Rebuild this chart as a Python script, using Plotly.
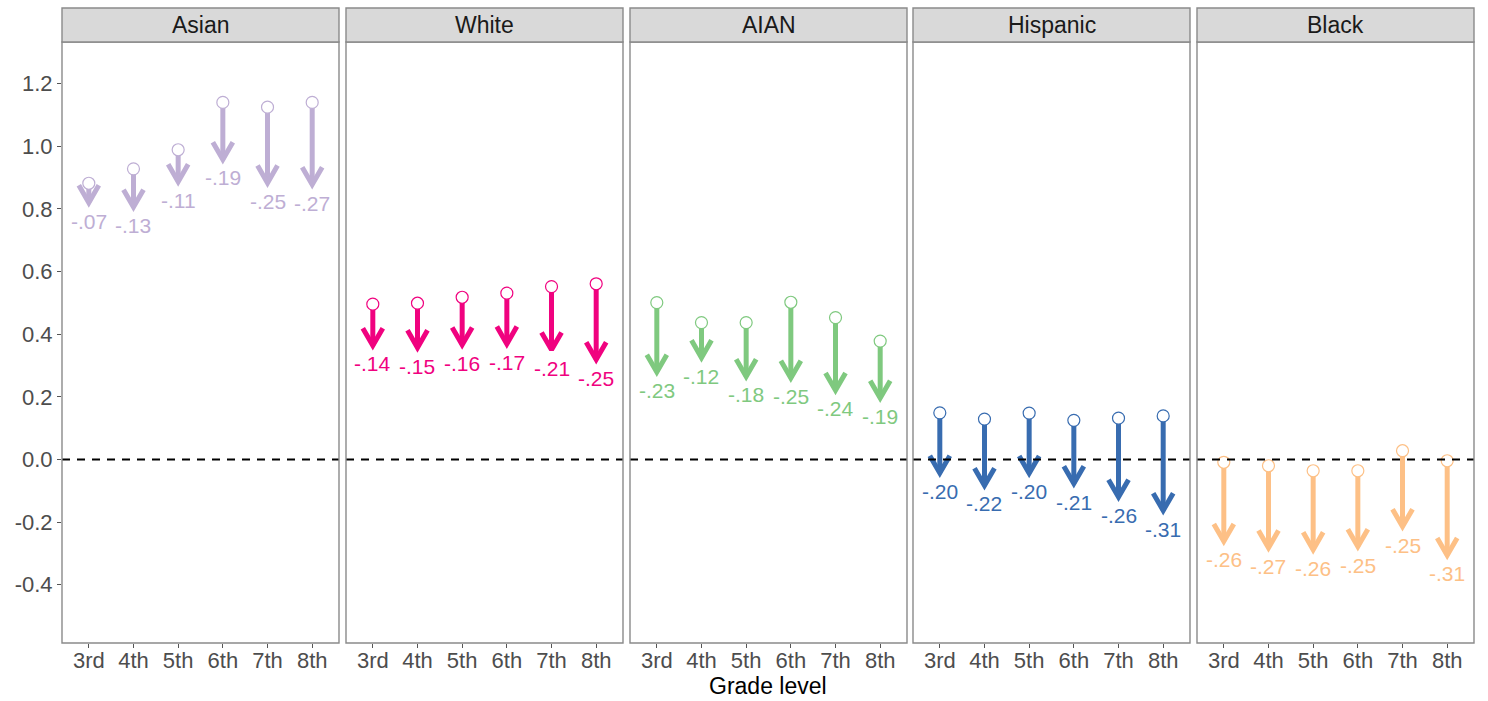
import math
import plotly.graph_objects as go

# ---------------- data ----------------
groups = ["Asian", "White", "AIAN", "Hispanic", "Black"]
grades = ["3rd", "4th", "5th", "6th", "7th", "8th"]
colors = ["#BEAED4", "#F0027F", "#7FC97F", "#386CB0", "#FDC086"]

asian_start = [0.882, 0.928, 0.989, 1.140, 1.125, 1.140]
asian_change = [-0.07, -0.13, -0.11, -0.19, -0.25, -0.27]
white_start = [0.496, 0.499, 0.518, 0.531, 0.552, 0.561]
white_change = [-0.14, -0.15, -0.16, -0.17, -0.21, -0.25]
aian_start = [0.501, 0.437, 0.437, 0.502, 0.453, 0.378]
aian_change = [-0.23, -0.12, -0.18, -0.25, -0.24, -0.19]
hisp_start = [0.149, 0.129, 0.148, 0.125, 0.132, 0.139]
hisp_change = [-0.20, -0.22, -0.20, -0.21, -0.26, -0.31]
black_start = [-0.009, -0.020, -0.036, -0.036, 0.028, -0.004]
black_change = [-0.26, -0.27, -0.26, -0.25, -0.25, -0.31]

starts = [asian_start, white_start, aian_start, hisp_start, black_start]
changes = [asian_change, white_change, aian_change, hisp_change, black_change]

y_ticks = [-0.4, -0.2, 0.0, 0.2, 0.4, 0.6, 0.8, 1.0, 1.2]
y_tick_labels = ["-0.4", "-0.2", "0.0", "0.2", "0.4", "0.6", "0.8", "1.0", "1.2"]

# ---------------- layout geometry ----------------
W, H = 1488, 701
panel_left = [62, 346, 630, 913, 1197]
panel_w = 277
plot_top, plot_bottom, strip_top = 42, 643, 8
x_range = [0.4, 6.6]
y_range = [-0.586, 1.333]
font = "Liberation Sans, Arial, sans-serif"

px_x = (x_range[1] - x_range[0]) / panel_w          # data units per px (x)
px_y = (y_range[1] - y_range[0]) / (plot_bottom - plot_top)  # per px (y)

line_w = 5
head_len = 20
head_ang = math.radians(30)
wing_dx = head_len * math.sin(head_ang) * px_x
wing_dy = head_len * math.cos(head_ang) * px_y
tip_adj = (line_w / 2) * px_y

def label(v):
    return "-." + f"{round(abs(v) * 100):02d}"

fig = go.Figure()
shapes = []
annotations = []
xpos = list(range(1, len(grades) + 1))

for gi, g in enumerate(groups):
    xa = "x" if gi == 0 else f"x{gi + 1}"
    xdom = xa + " domain"
    col = colors[gi]
    sx, sy, cx, cy = [], [], [], []
    for i, (s, c) in enumerate(zip(starts[gi], changes[gi])):
        x = xpos[i]
        e = s + c
        v = e + tip_adj
        sx += [x, x, None]
        sy += [s, v, None]
        cx += [x - wing_dx, x, x + wing_dx, None]
        cy += [v + wing_dy, v, v + wing_dy, None]
        annotations.append(dict(x=x, y=e, xref=xa, yref="y", text=label(c),
                                showarrow=False, yshift=-16, yanchor="middle",
                                font=dict(size=21, color=col, family=font)))
    fig.add_trace(go.Scatter(x=sx, y=sy, mode="lines", xaxis=xa, yaxis="y",
                             line=dict(color=col, width=line_w), hoverinfo="skip",
                             showlegend=False))
    fig.add_trace(go.Scatter(x=cx, y=cy, mode="lines", xaxis=xa, yaxis="y",
                             line=dict(color=col, width=line_w), hoverinfo="skip",
                             showlegend=False))
    fig.add_trace(go.Scatter(x=xpos, y=starts[gi], mode="markers", xaxis=xa, yaxis="y",
                             marker=dict(symbol="circle", size=12, color="white",
                                         line=dict(color=col, width=1.2)),
                             showlegend=False))
    # zero reference line
    shapes.append(dict(type="line", xref=xdom, yref="y", x0=0, x1=1, y0=0, y1=0,
                       line=dict(color="black", width=2, dash="8px,7px"), layer="above"))
    # panel border
    shapes.append(dict(type="rect", xref=xdom, yref="y domain", x0=0, x1=1, y0=0, y1=1,
                       line=dict(color="#8a8a8a", width=1.4), fillcolor="rgba(0,0,0,0)",
                       layer="above"))
    # strip
    shapes.append(dict(type="rect", xref=xdom, yref="paper", x0=0, x1=1,
                       y0=(H - plot_top) / H, y1=(H - strip_top) / H,
                       line=dict(color="#8a8a8a", width=1.4), fillcolor="#D9D9D9"))
    annotations.append(dict(x=0.5, xref=xdom, y=(H - (plot_top + strip_top) / 2) / H,
                            yref="paper", text=g, showarrow=False, yanchor="middle",
                            font=dict(size=23, color="#1A1A1A", family=font)))
    fig.update_layout(**{
        ("xaxis" if gi == 0 else f"xaxis{gi + 1}"): dict(
            domain=[panel_left[gi] / W, (panel_left[gi] + panel_w) / W],
            anchor="y", range=x_range, tickvals=xpos, ticktext=grades,
            ticks="outside", ticklen=4, tickwidth=1, tickcolor="#555555",
            ticklabelstandoff=-6,
            showgrid=False, zeroline=False, showline=False,
            tickfont=dict(size=22, color="#4D4D4D", family=font), automargin=False)
    })

annotations.append(dict(x=(panel_left[0] + panel_left[-1] + panel_w) / 2 / W, xref="paper",
                        y=(H - 686) / H, yref="paper", text="Grade level", showarrow=False,
                        yanchor="middle", font=dict(size=23, color="black", family=font)))

fig.update_layout(
    width=W, height=H, autosize=False,
    margin=dict(l=0, r=0, t=0, b=0),
    paper_bgcolor="white", plot_bgcolor="white",
    yaxis=dict(domain=[(H - plot_bottom) / H, (H - plot_top) / H], anchor="x",
               range=y_range, tickvals=y_ticks, ticktext=y_tick_labels,
               ticks="outside", ticklen=4, tickwidth=1, tickcolor="#555555",
               showgrid=False, zeroline=False, showline=False,
               tickfont=dict(size=22, color="#4D4D4D", family=font), automargin=False),
    shapes=shapes, annotations=annotations,
    font=dict(family=font),
)

fig.write_html("out.html", config={"displayModeBar": False},
               post_script="document.body.style.margin='0px';document.body.style.overflow='hidden';")
